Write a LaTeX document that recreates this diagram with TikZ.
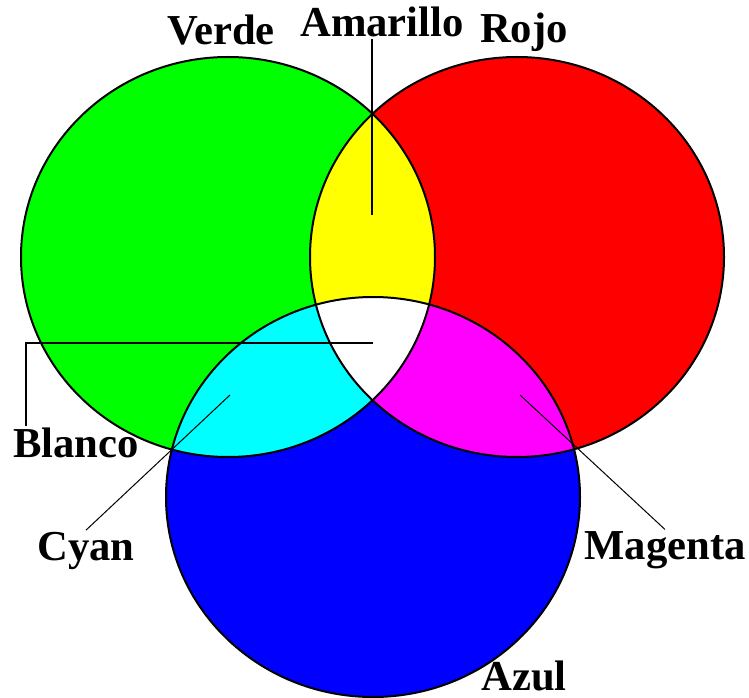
\documentclass[tikz,border=0pt]{standalone}
\usepackage{fontspec}
\setmainfont{Liberation Serif}
\definecolor{verdeL}{RGB}{0,255,0}
\definecolor{rojoL}{RGB}{255,0,0}
\definecolor{azulL}{RGB}{0,0,255}
\definecolor{amarilloL}{RGB}{255,255,0}
\definecolor{cyanL}{RGB}{0,255,255}
\definecolor{magentaL}{RGB}{255,0,255}
\tikzset{
    etiqueta/.style={font=\bfseries\fontsize{32}{34}\selectfont, inner sep=1pt, anchor=base},
    borde/.style={line width=1.5pt},
    guia/.style={line width=1.5pt},
    guiafina/.style={line width=0.75pt}
}
\begin{document}
\begin{tikzpicture}[x=0.75pt,y=-0.75pt]
    \useasboundingbox (0,0) rectangle (749,698);

    % centros de los circulos
    \def\rx{207}
    \def\ry{200}
    \coordinate (V) at (228,257);
    \coordinate (R) at (517,257);
    \coordinate (A) at (373,497);

    % colores primarios
    \fill[verdeL] (V) ellipse [x radius=\rx, y radius=\ry];
    \fill[rojoL] (R) ellipse [x radius=\rx, y radius=\ry];
    \fill[azulL] (A) ellipse [x radius=\rx, y radius=\ry];

    % mezclas
    \begin{scope}
        \clip (R) ellipse [x radius=\rx, y radius=\ry];
        \fill[magentaL] (A) ellipse [x radius=\rx, y radius=\ry];
    \end{scope}
    \begin{scope}
        \clip (V) ellipse [x radius=\rx, y radius=\ry];
        \fill[amarilloL] (R) ellipse [x radius=\rx, y radius=\ry];
        \fill[cyanL] (A) ellipse [x radius=\rx, y radius=\ry];
        \clip (R) ellipse [x radius=\rx, y radius=\ry];
        \fill[white] (A) ellipse [x radius=\rx, y radius=\ry];
    \end{scope}

    % bordes
    \draw[borde] (V) ellipse [x radius=\rx, y radius=\ry];
    \draw[borde] (R) ellipse [x radius=\rx, y radius=\ry];
    \draw[borde] (A) ellipse [x radius=\rx, y radius=\ry];

    % etiquetas
    \node[etiqueta] (lVerde) at (221,45) {Verde};
    \node[etiqueta] (lAmarillo) at (382,37) {Amarillo};
    \node[etiqueta] (lRojo) at (524,43) {Rojo};
    \node[etiqueta] (lBlanco) at (76,457) {Blanco};
    \node[etiqueta] (lCyan) at (86,560) {Cyan};
    \node[etiqueta] (lMagenta) at (665,559) {Magenta};
    \node[etiqueta] (lAzul) at (524,690) {Azul};

    % lineas de referencia
    \coordinate (pAmarillo) at (372,215);
    \coordinate (pBlanco) at (373,343);
    \coordinate (eBlanco) at (26,343);
    \coordinate (pCyan) at (230,395);
    \coordinate (pMagenta) at (520,395);
    \draw[guia] (lAmarillo.south -| pAmarillo) -- (pAmarillo);
    \draw[guia] (pBlanco) -- (eBlanco) -- (eBlanco |- lBlanco.north);
    \draw[guiafina] (pCyan) -- (lCyan.north);
    \draw[guiafina] (pMagenta) -- (lMagenta.north);
\end{tikzpicture}
\end{document}
